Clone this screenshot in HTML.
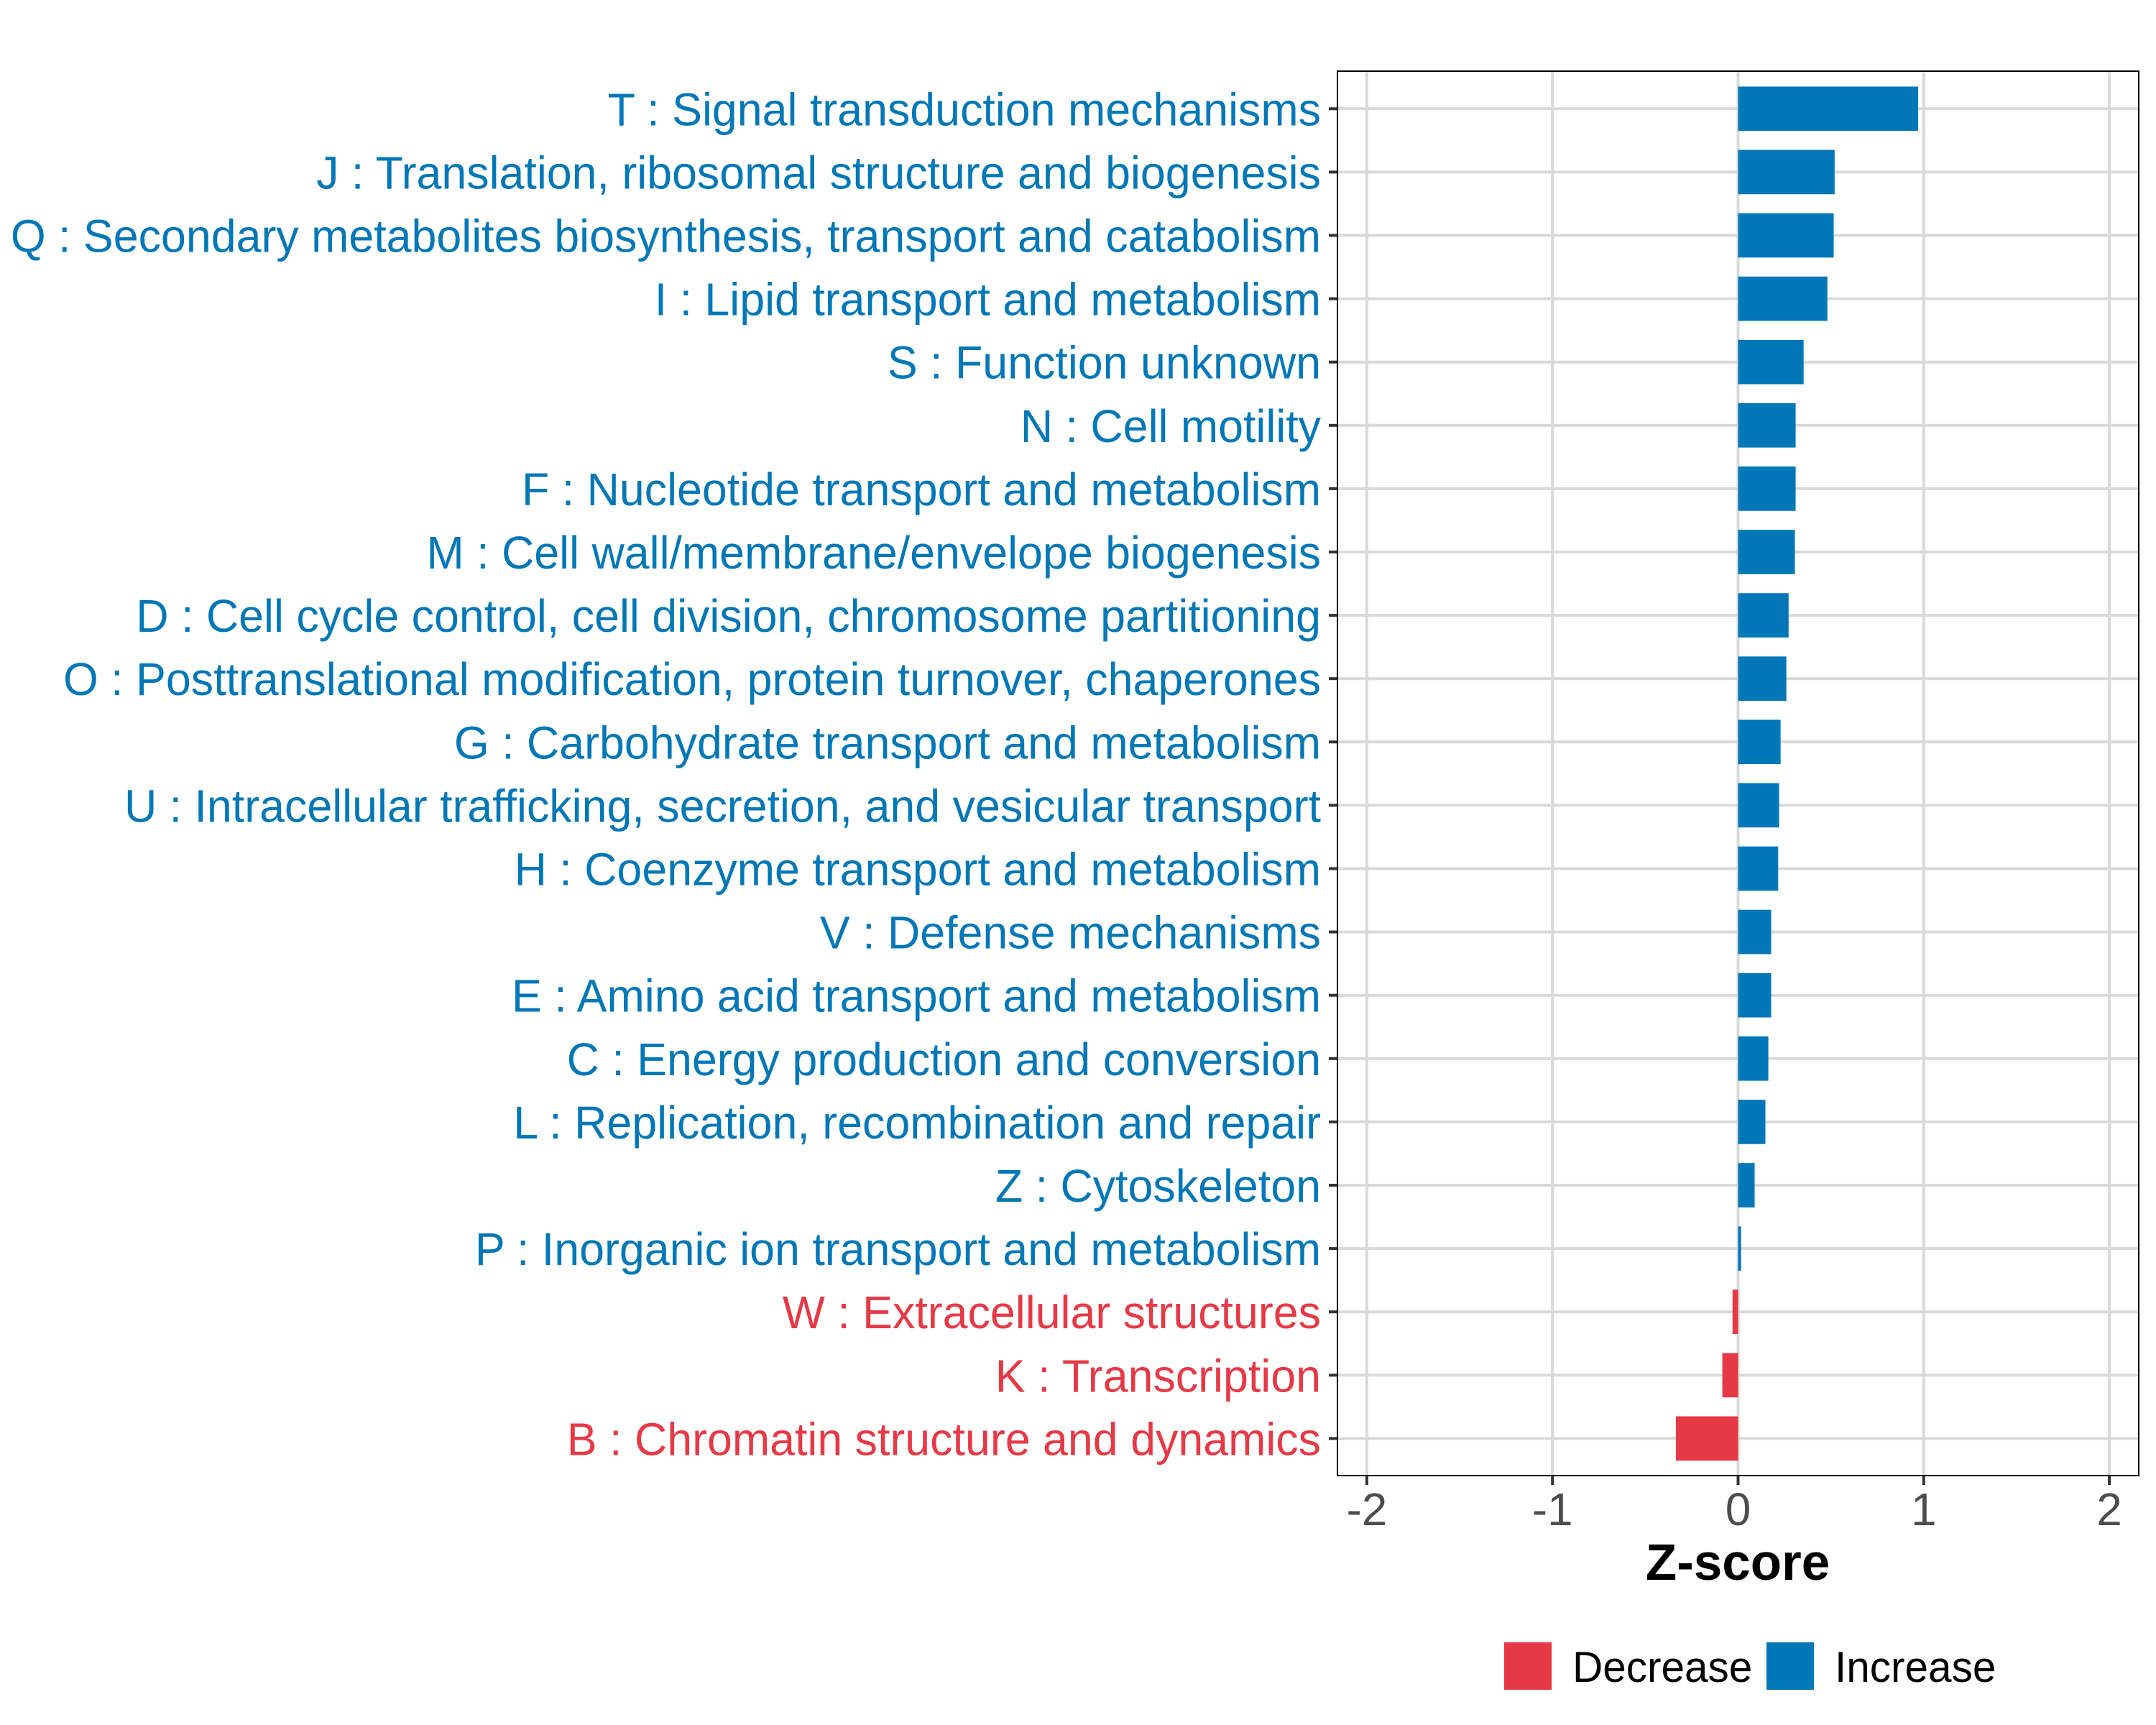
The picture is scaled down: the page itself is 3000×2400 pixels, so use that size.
<!DOCTYPE html>
<html><head><meta charset="utf-8"><style>
html,body{margin:0;padding:0;background:#fff;}
svg{display:block;font-family:"Liberation Sans",Arial,sans-serif;}
</style></head><body>
<svg id="chart" width="3000" height="2400" viewBox="0 0 3000 2400" xmlns="http://www.w3.org/2000/svg">
<rect x="0" y="0" width="3000" height="2400" fill="#fff"/>
<g id="grid"></g>
<g id="bars"></g>
<rect x="1861" y="99" width="1115" height="1954" fill="none" stroke="#000" stroke-width="2"/>
<g id="yticks"></g>
<g id="ylabels" transform="translate(1838,0) scale(0.98,1) translate(-1838,0)"></g>
<g id="xticks"></g>
<text x="2418" y="2198" text-anchor="middle" font-size="71" font-weight="bold" fill="#000">Z-score</text>
<g>
  <rect x="2093" y="2285" width="66" height="66" fill="#E63946"/>
  <text x="2188" y="2340" font-size="60" fill="#000" transform="translate(2188,0) scale(0.975,1) translate(-2188,0)">Decrease</text>
  <rect x="2458" y="2285" width="66" height="66" fill="#0077B6"/>
  <text x="2553" y="2340" font-size="60" fill="#000" transform="translate(2553,0) scale(0.975,1) translate(-2553,0)">Increase</text>
</g>
</svg>
<script>
const categories = [
"T : Signal transduction mechanisms",
"J : Translation, ribosomal structure and biogenesis",
"Q : Secondary metabolites biosynthesis, transport and catabolism",
"I : Lipid transport and metabolism",
"S : Function unknown",
"N : Cell motility",
"F : Nucleotide transport and metabolism",
"M : Cell wall/membrane/envelope biogenesis",
"D : Cell cycle control, cell division, chromosome partitioning",
"O : Posttranslational modification, protein turnover, chaperones",
"G : Carbohydrate transport and metabolism",
"U : Intracellular trafficking, secretion, and vesicular transport",
"H : Coenzyme transport and metabolism",
"V : Defense mechanisms",
"E : Amino acid transport and metabolism",
"C : Energy production and conversion",
"L : Replication, recombination and repair",
"Z : Cytoskeleton",
"P : Inorganic ion transport and metabolism",
"W : Extracellular structures",
"K : Transcription",
"B : Chromatin structure and dynamics"
];
const zscores = [0.97,0.52,0.515,0.481,0.353,0.31,0.31,0.306,0.272,0.26,0.229,0.221,0.216,0.178,0.178,0.163,0.147,0.089,0.016,-0.03,-0.085,-0.335];
const xTicks = [-2,-1,0,1,2];
const xTickLabels = ["-2","-1","0","1","2"];

const NS = "http://www.w3.org/2000/svg";
const x0 = 2418.5, unit = 258.3;
function xs(v){ return x0 + v*unit; }
const yTop = 151.3, step = 88.1;
function ys(i){ return yTop + i*step; }
const panelL = 1861, panelR = 2976, panelT = 99, panelB = 2053;
const BLUE = "#0077B6", RED = "#E63946";

function mk(tag, attrs, parent){
  const e = document.createElementNS(NS, tag);
  for (const k in attrs) e.setAttribute(k, attrs[k]);
  parent.appendChild(e);
  return e;
}
const grid = document.getElementById('grid');
const bars = document.getElementById('bars');
const ylabels = document.getElementById('ylabels');
const yticks = document.getElementById('yticks');
const xticks = document.getElementById('xticks');

xTicks.forEach((t, i) => {
  const gx = xs(t);
  const g = mk('line', {x1:gx, x2:gx, y1:panelT, y2:panelB, stroke:'#d9d9d9', 'stroke-width':4}, grid);
  
  
  const tk = mk('line', {x1:gx, x2:gx, y1:panelB, y2:panelB+13, stroke:'#333', 'stroke-width':4}, xticks);
  
  
  const tl = mk('text', {x:gx, y:2122, 'text-anchor':'middle', 'font-size':64, fill:'#4d4d4d'}, xticks);
  tl.textContent = xTickLabels[i];
  
  
});

categories.forEach((c, i) => {
  const cy = ys(i);
  const gl = mk('line', {x1:panelL, x2:panelR, y1:cy, y2:cy, stroke:'#d9d9d9', 'stroke-width':4}, grid);
  
  
  const v = zscores[i];
  const col = v >= 0 ? BLUE : RED;
  const h = step*0.7;
  const r = mk('rect', {x:Math.min(xs(0), xs(v)), y:cy-h/2, width:Math.abs(xs(v)-xs(0)), height:h, fill:col}, bars);
  
  
  const tk = mk('line', {x1:panelL-12, x2:panelL, y1:cy, y2:cy, stroke:'#333', 'stroke-width':4}, yticks);
  
  
  const t = mk('text', {x:1838, y:cy+23, 'text-anchor':'end', 'font-size':64, fill:col}, ylabels);
  t.textContent = c;
  
  
});
</script>
</body></html>
